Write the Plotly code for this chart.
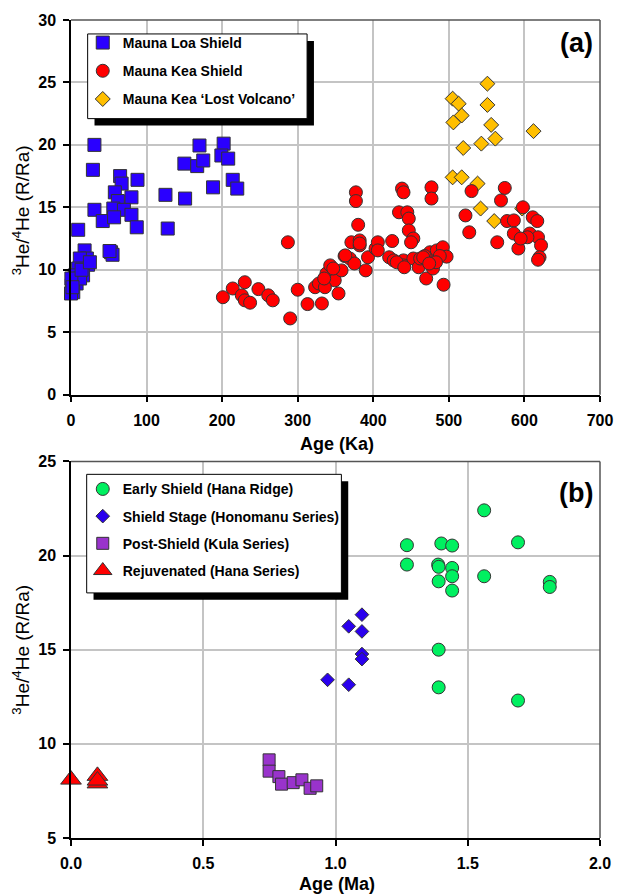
import plotly.graph_objects as go

# ---------------- Panel (a) data: Age (Ka) vs 3He/4He (R/Ra) ----------------
loa_age = [31, 29, 65, 88, 67, 58, 80, 62, 31, 56, 70, 42, 57, 80, 87, 9.5, 125, 151, 128,
           53, 55, 51, 170, 150, 167, 175, 202, 199, 208, 188, 214, 220,
           18, 22.5, 21, 11.7, 9.5, 16, 5, 7.4, 1, 3, 0, 12, 0.5, 2, 14, 25]
loa_ra = [20.0, 18.0, 17.5, 17.2, 16.9, 16.2, 15.8, 15.5, 14.8, 14.9, 14.8, 13.9, 14.2, 14.4, 13.4, 13.2, 16.0, 15.7, 13.3,
          11.4, 11.2, 11.5, 19.95, 18.5, 18.3, 18.75, 20.1, 19.15, 18.9, 16.6, 17.2, 16.5,
          11.55, 10.4, 10.9, 10.9, 10.1, 9.55, 9.55, 8.9, 8.75, 8.2, 8.1, 9.3, 9.3, 8.6, 10.0, 10.6]

kea_age = [201, 214, 230, 226, 230, 237, 248, 261, 267, 287, 290, 300, 313, 323, 332, 328, 338, 343, 349, 354,
           358, 336, 335, 347, 362, 369, 375, 371, 377, 377, 380, 382, 382, 390, 393, 403, 406, 425, 421, 427,
           438, 440, 434, 445, 447, 447, 453, 450, 440, 440, 453, 460, 462, 470, 477, 477, 475, 479, 481, 484,
           479, 492, 493, 497, 468, 488, 522, 527, 530, 564, 574, 569, 577, 586, 586, 592, 598, 607, 611, 617,
           618, 622, 620, 618, 604, 595, 382, 363, 406, 431, 441, 483, 466, 474]
kea_ra = [7.8, 8.5, 9.0, 7.95, 7.55, 7.36, 8.45, 7.95, 7.55, 12.2, 6.1, 8.4, 7.25, 8.6, 7.3, 8.9, 9.7, 10.35, 9.15, 8.1,
          9.95, 8.6, 9.3, 10.1, 11.1, 10.9, 10.5, 12.2, 16.2, 15.5, 13.6, 12.35, 11.95, 9.95, 11.0, 11.7, 12.2, 12.3, 11.0, 10.75,
          16.5, 16.2, 14.6, 14.6, 14.1, 13.15, 12.5, 12.2, 10.75, 10.35, 10.9, 10.2, 10.9, 9.3, 16.6, 15.7, 11.4, 10.9, 10.5, 11.55,
          10.1, 11.8, 8.8, 11.05, 11.1, 11.1, 14.35, 13.0, 16.3, 12.2, 16.55, 15.55, 13.9, 13.95, 12.9, 11.7, 15.0, 12.9, 14.2, 13.9,
          12.6, 11.95, 11.0, 10.8, 12.6, 12.5, 12.1, 11.15, 11.55, 10.6, 10.2, 10.6, 11.0, 10.5]

lost_age = [551, 505, 513, 551, 517, 506, 556, 561.5, 543, 519, 612, 505, 517, 538, 542, 560, 597]
lost_ra = [24.9, 23.7, 23.3, 23.2, 22.35, 21.8, 21.6, 20.5, 20.1, 19.75, 21.1, 17.4, 17.4, 16.9, 14.9, 13.9, 14.9]

# ---------------- Panel (b) data: Age (Ma) vs 3He/4He (R/Ra) ----------------
early_age = [1.562, 1.69, 1.27, 1.40, 1.441, 1.27, 1.388, 1.39, 1.441, 1.441, 1.562, 1.39, 1.441, 1.81, 1.81, 1.39, 1.39, 1.69]
early_ra = [22.4, 20.7, 20.55, 20.64, 20.53, 19.52, 19.52, 19.4, 19.34, 18.9, 18.9, 18.63, 18.14, 18.6, 18.33, 15.0, 13.0, 12.3]

shield_age = [1.10, 1.05, 1.10, 1.10, 1.10, 0.97, 1.05]
shield_ra = [16.86, 16.24, 15.97, 14.77, 14.5, 13.4, 13.14]

post_age = [0.749, 0.749, 0.786, 0.796, 0.84, 0.873, 0.904, 0.929]
post_ra = [9.15, 8.55, 8.26, 7.86, 7.94, 8.09, 7.64, 7.77]

rejuv_age = [0.0, 0.1, 0.1, 0.1]
rejuv_ra = [8.1, 8.3, 7.9, 8.05]

a_xticks = [0, 100, 200, 300, 400, 500, 600, 700]
a_yticks = [0, 5, 10, 15, 20, 25, 30]
b_xticks = [0.0, 0.5, 1.0, 1.5, 2.0]
b_xticklabels = ["0.0", "0.5", "1.0", "1.5", "2.0"]
b_yticks = [5, 10, 15, 20, 25]

# ---------------- geometry ----------------
W, H = 625, 894
ML, MR, MT, MB = 71, 14, 17, 56
PW = W - ML - MR
PH = H - MT - MB


def px2x(px):
    return (px - ML) / PW


def py2y(py):
    return (H - MB - py) / PH


FONT = "Liberation Sans, Arial, Helvetica, sans-serif"
LINE = dict(color="#333333", width=1)

fig = go.Figure()

fig.add_trace(go.Scatter(x=loa_age, y=loa_ra, mode="markers", name="Mauna Loa Shield",
                         legend="legend", legendgroup="a1", legendrank=1, cliponaxis=False,
                         marker=dict(symbol="square", size=13, color="#2a00ff", line=LINE),
                         xaxis="x", yaxis="y"))
fig.add_trace(go.Scatter(x=lost_age, y=lost_ra, mode="markers", name="Mauna Kea \u2018Lost Volcano\u2019",
                         legend="legend", legendgroup="a3", legendrank=3, cliponaxis=False,
                         marker=dict(symbol="diamond", size=11.5, color="#ffbf00", line=LINE),
                         xaxis="x", yaxis="y"))
fig.add_trace(go.Scatter(x=kea_age, y=kea_ra, mode="markers", name="Mauna Kea Shield",
                         legend="legend", legendgroup="a2", legendrank=2, cliponaxis=False,
                         marker=dict(symbol="circle", size=13, color="#ff0000", line=LINE),
                         xaxis="x", yaxis="y"))

fig.add_trace(go.Scatter(x=early_age, y=early_ra, mode="markers", name="Early Shield (Hana Ridge)",
                         legend="legend2", legendgroup="b1", legendrank=1, cliponaxis=False,
                         marker=dict(symbol="circle", size=13, color="#00f060", line=LINE),
                         xaxis="x2", yaxis="y2"))
fig.add_trace(go.Scatter(x=shield_age, y=shield_ra, mode="markers", name="Shield Stage (Honomanu Series)",
                         legend="legend2", legendgroup="b2", legendrank=2, cliponaxis=False,
                         marker=dict(symbol="diamond", size=10.5, color="#2a00ee", line=LINE),
                         xaxis="x2", yaxis="y2"))
fig.add_trace(go.Scatter(x=post_age, y=post_ra, mode="markers", name="Post-Shield (Kula Series)",
                         legend="legend2", legendgroup="b3", legendrank=3, cliponaxis=False,
                         marker=dict(symbol="square", size=12, color="#9933cc", line=LINE),
                         xaxis="x2", yaxis="y2"))
fig.add_trace(go.Scatter(x=rejuv_age, y=rejuv_ra, mode="markers", name="Rejuvenated (Hana Series)",
                         legend="legend2", legendgroup="b4", legendrank=4, cliponaxis=False,
                         marker=dict(symbol="triangle-up", size=18, color="#ff0000", line=LINE),
                         xaxis="x2", yaxis="y2"))

axis_common = dict(showgrid=True, gridcolor="#c4c4c4", gridwidth=1.5, zeroline=False,
                   showline=True, linecolor="black", linewidth=1.5,
                   ticks="outside", ticklen=6, tickwidth=1.5, tickcolor="black",
                   tickfont=dict(family=FONT, size=16, color="black", weight="bold"),
                   ticklabelstandoff=4)

ya_top = 1.0
ya_bot = py2y(393)
yb_top = py2y(460)

fig.update_layout(
    width=W, height=H,
    margin=dict(l=ML, r=MR, t=MT, b=MB),
    paper_bgcolor="white", plot_bgcolor="white",
    showlegend=True,
    xaxis=dict(axis_common, domain=[0, 1], range=[0, 700], tickvals=a_xticks, anchor="y"),
    yaxis=dict(axis_common, domain=[ya_bot, ya_top], range=[0, 30], tickvals=a_yticks, anchor="x"),
    xaxis2=dict(axis_common, domain=[0, 1], range=[0, 2.0], tickvals=b_xticks, ticktext=b_xticklabels, anchor="y2"),
    yaxis2=dict(axis_common, domain=[0, yb_top], range=[5, 25], tickvals=b_yticks, anchor="x2"),
    legend=dict(x=px2x(83), y=py2y(24), xanchor="left", yanchor="top",
                bgcolor="rgba(0,0,0,0)", borderwidth=0, tracegroupgap=7,
                font=dict(family=FONT, size=14, color="black", weight="bold")),
    legend2=dict(x=px2x(83), y=py2y(472), xanchor="left", yanchor="top",
                 bgcolor="rgba(0,0,0,0)", borderwidth=0, tracegroupgap=6,
                 font=dict(family=FONT, size=14, color="black", weight="bold")),
)

shapes = []
# top / right frame lines
for xr, yr in (("x domain", "y domain"), ("x2 domain", "y2 domain")):
    shapes.append(dict(type="line", xref=xr, yref=yr, x0=0, x1=1, y0=1, y1=1,
                       line=dict(color="#555555", width=1.5), layer="above"))
    shapes.append(dict(type="line", xref=xr, yref=yr, x0=1, x1=1, y0=0, y1=1,
                       line=dict(color="#555555", width=1.5), layer="above"))
# legend boxes with drop shadows
for (x0, y0, x1, y1), off in (((88, 31, 312, 116), 7), ((87, 473, 347, 592), 7)):
    shapes.append(dict(type="rect", xref="paper", yref="paper",
                       x0=px2x(x0 + off), x1=px2x(x1 + off), y0=py2y(y0 + off), y1=py2y(y1 + off),
                       fillcolor="black", line=dict(width=0), layer="above"))
    shapes.append(dict(type="rect", xref="paper", yref="paper",
                       x0=px2x(x0), x1=px2x(x1), y0=py2y(y0), y1=py2y(y1),
                       fillcolor="white", line=dict(color="black", width=1), layer="above"))
fig.update_layout(shapes=shapes)

ann = []
ytitle = "<sup>3</sup>He/<sup>4</sup>He (R/Ra)"
ann.append(dict(text=ytitle, xref="paper", yref="paper", x=px2x(20), y=py2y(208),
                textangle=-90, showarrow=False, xanchor="center", yanchor="middle",
                font=dict(family=FONT, size=19, color="black")))
ann.append(dict(text=ytitle, xref="paper", yref="paper", x=px2x(20), y=py2y(649),
                textangle=-90, showarrow=False, xanchor="center", yanchor="middle",
                font=dict(family=FONT, size=19, color="black")))
ann.append(dict(text="Age (Ka)", xref="paper", yref="paper", x=px2x(343), y=py2y(443),
                showarrow=False, xanchor="center", yanchor="middle",
                font=dict(family=FONT, size=18, color="black", weight="bold")))
ann.append(dict(text="Age (Ma)", xref="paper", yref="paper", x=px2x(343), y=py2y(884),
                showarrow=False, xanchor="center", yanchor="middle",
                font=dict(family=FONT, size=18, color="black", weight="bold")))
ann.append(dict(text="(a)", xref="paper", yref="paper", x=px2x(606), y=py2y(40),
                showarrow=False, xanchor="right", yanchor="middle",
                font=dict(family=FONT, size=27, color="black", weight="bold")))
ann.append(dict(text="(b)", xref="paper", yref="paper", x=px2x(606), y=py2y(492),
                showarrow=False, xanchor="right", yanchor="middle",
                font=dict(family=FONT, size=27, color="black", weight="bold")))
fig.update_layout(annotations=ann)

fig.write_html("out.html")
